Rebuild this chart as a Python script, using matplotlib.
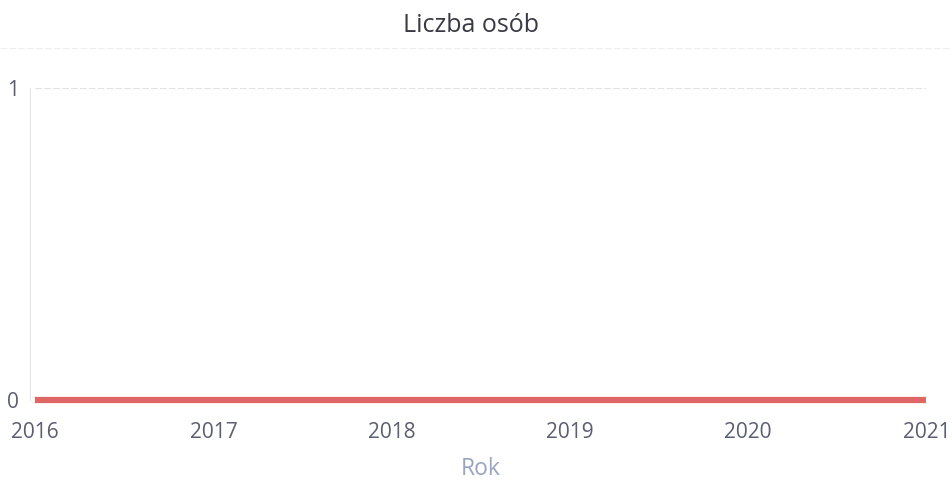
import matplotlib
matplotlib.use("Agg")
import matplotlib.pyplot as plt

years = [2016, 2017, 2018, 2019, 2020, 2021]
counts = [0, 0, 0, 0, 0, 0]
y_ticks = [0, 1]

plt.rcParams['font.family'] = ['Open Sans', 'DejaVu Sans']

fig = plt.figure(figsize=(9.53, 4.8), dpi=100)
ax = fig.add_axes([0.037, 0.167, 0.935, 0.650])

ax.plot(years, counts, color='#e06666', linewidth=4.5, solid_capstyle='butt',
        zorder=3, clip_on=False)

ax.set_xlim(years[0], years[-1])
ax.set_ylim(0, 1)
ax.set_xticks(years)
ax.set_yticks(y_ticks)
ax.tick_params(axis='both', length=0, labelsize=15, colors='#5a5e70')
ax.tick_params(axis='x', pad=16)
ax.tick_params(axis='y', pad=8)

for s in ['top', 'right', 'bottom']:
    ax.spines[s].set_visible(False)
ax.spines['left'].set_color('#e4e4e4')
ax.spines['left'].set_linewidth(0.8)
ax.spines['left'].set_position(('outward', 4))

ax.axhline(1, color='#e2e2e2', linewidth=0.8, linestyle=(0, (6, 2)), zorder=1)

ax.set_xlabel('Rok', fontsize=16.5, color='#9aa3c0', labelpad=10)
fig.text(0.494, 0.947, 'Liczba osób', ha='center', va='center', fontsize=18, color='#3a3a44')
fig.add_artist(plt.Line2D([0.0, 1.0], [0.900, 0.900], color='#eeeeee', linewidth=0.8, linestyle=(0, (6, 2))))

fig.savefig('out.png', dpi=100, facecolor='white')
